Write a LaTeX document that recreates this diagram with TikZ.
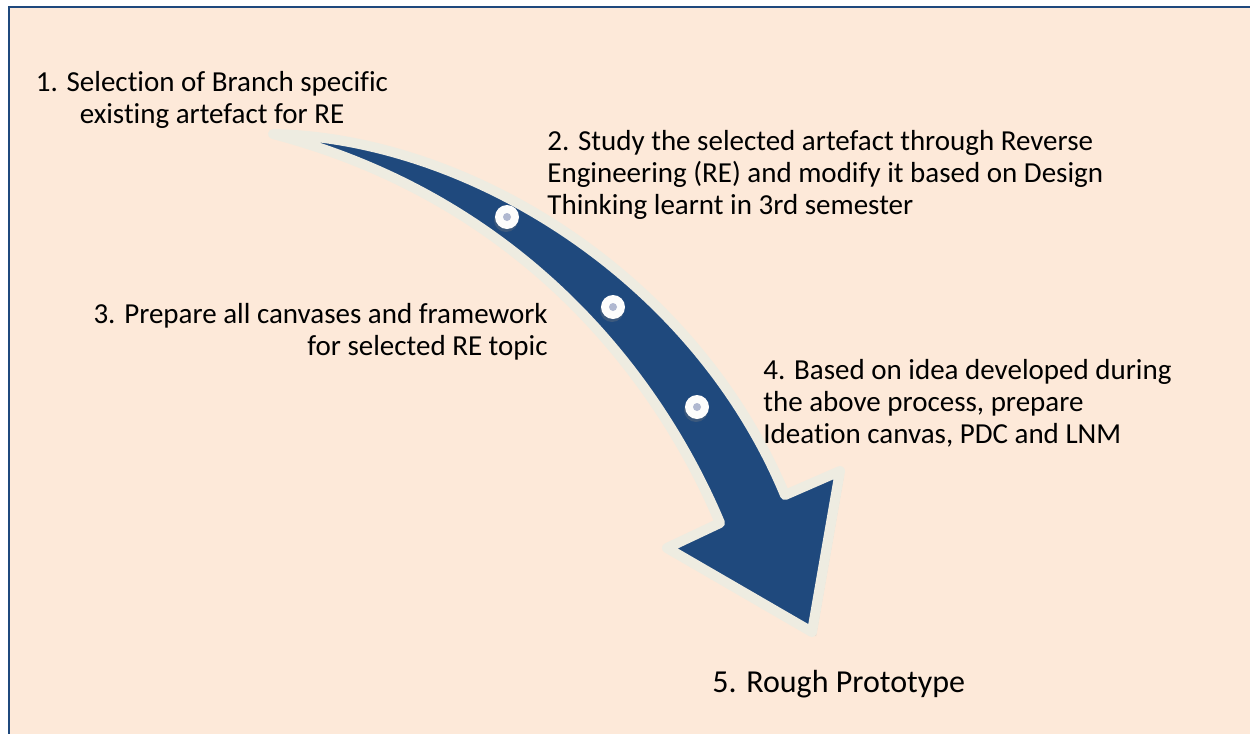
\documentclass[tikz,border=0pt]{standalone}
\usepackage{fontspec}
\setmainfont{Carlito}[Ligatures=NoCommon]
\usetikzlibrary{shadows}
\definecolor{peach}{HTML}{FDE9D9}
\definecolor{navy}{HTML}{1F497D}
\definecolor{cream}{HTML}{EEECE1}
\definecolor{dotgrey}{HTML}{B0B8D0}
\tikzset{
	stagetext/.style = {inner sep=0pt, font=\fontsize{14.5pt}{16pt}\selectfont},
	stage_c/.style = {stagetext, align=center, anchor=base},% texte centre
	stage_l/.style = {stagetext, align=left, anchor=base west},% texte a gauche
	stage_r/.style = {stagetext, align=right, anchor=base east},% texte a droite
	dot_o/.style = {circle, fill=white!90!cream, inner sep=0pt, minimum size=12pt,
		drop shadow={opacity=0.3, shadow xshift=-0.5pt, shadow yshift=-1.5pt}},% point, anneau
	dot_i/.style = {circle, fill=dotgrey, inner sep=0pt, minimum size=4pt}% point, centre
}
\begin{document}
\begin{tikzpicture}[x=0.5pt,y=-0.5pt]
	\useasboundingbox (0,0) rectangle (1250,734);
	\fill[peach] (8,6) rectangle (1250,734);
	\draw[navy, line width=1pt] (8.5,734) -- (8.5,6.5) -- (1250,6.5);
	% la fleche courbe
	\coordinate (tail) at (273,134);
	\coordinate (neckR) at (785,495);
	\coordinate (barbR) at (840,471);
	\coordinate (tip) at (812,632);
	\coordinate (barbL) at (667,548);
	\coordinate (neckL) at (720,523);
	\draw[fill=navy, draw=cream, line width=5pt, line join=round,
		drop shadow={opacity=0.25, shadow xshift=2pt, shadow yshift=-2pt}]
		(tail) .. controls (470,138) and (695,278) .. (neckR)
		-- (barbR) -- (tip) -- (barbL) -- (neckL)
		.. controls (660,380) and (525,200) .. (tail) -- cycle;
	% points sur la fleche
	\foreach \name/\px/\py in {d1/507/217, d2/613/307, d3/697/407}{
		\node[dot_o] (\name) at (\px,\py) {};
		\node[dot_i] at (\name) {};
	}
	% textes (ancre = ligne de base de la derniere ligne)
	\node[stage_c] (s1) at (212,123) {1. Selection of Branch specific\\existing artefact for RE};
	\node[stage_l] (s2) at (547,214) {2. Study the selected artefact through Reverse\\Engineering (RE) and modify it based on Design\\Thinking learnt in 3rd semester};
	\node[stage_r] (s3) at (548,355) {3. Prepare all canvases and framework\\for selected RE topic};
	\node[stage_l] (s4) at (763,443) {4. Based on idea developed during\\the above process, prepare\\Ideation canvas, PDC and LNM};
	\node[stagetext, anchor=base west, font=\fontsize{16pt}{16pt}\selectfont] (s5) at (712,692) {5. Rough Prototype};
\end{tikzpicture}
\end{document}
